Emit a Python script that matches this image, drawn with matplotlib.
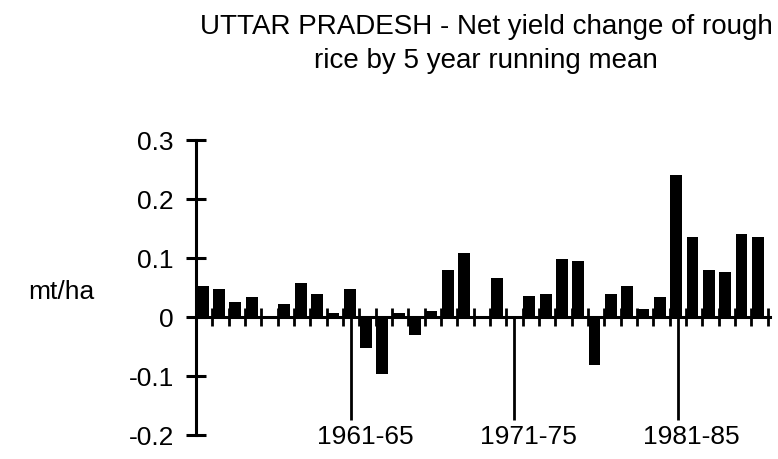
import numpy as np
import matplotlib
matplotlib.use('Agg')
import matplotlib.pyplot as plt
from matplotlib.transforms import ScaledTranslation

plt.rcParams['font.family'] = ['Liberation Sans', 'DejaVu Sans']

# 5 year running mean periods, 1952-56 ... 1986-90
periods = ['%d-%02d' % (y, (y + 4) % 100) for y in range(1952, 1987)]
net_change = [0.052, 0.048, 0.025, 0.033, 0.0, 0.021, 0.057, 0.039, 0.007, 0.048,
              -0.052, -0.097, 0.006, -0.031, 0.010, 0.080, 0.109, 0.0, 0.065, 0.0,
              0.035, 0.039, 0.098, 0.094, -0.081, 0.039, 0.052, 0.014, 0.034, 0.240,
              0.136, 0.080, 0.076, 0.140, 0.136]
labelled = ['1961-65', '1971-75', '1981-85']
yticks = [-0.2, -0.1, 0, 0.1, 0.2, 0.3]
ytick_labels = ['-0.2', '-0.1', '0', '0.1', '0.2', '0.3']

fig = plt.figure(figsize=(7.78, 4.60), dpi=100)
ax = fig.add_axes([196 / 778, 1 - 436 / 460, (770 - 196) / 778, (436 - 140.7) / 460])

x = np.arange(len(net_change))
ax.bar(x + 0.05, net_change, width=0.72, align='edge', color='black', linewidth=0)

ax.set_xlim(0, len(net_change) + 0.15)
ax.set_ylim(-0.2, 0.3)

for s in ['top', 'right']:
    ax.spines[s].set_visible(False)
ax.spines['bottom'].set_position(('data', 0))
ax.spines['bottom'].set_linewidth(2.2)
ax.spines['left'].set_linewidth(2.2)

ax.set_yticks(yticks)
ax.set_yticklabels(ytick_labels)
ax.tick_params(axis='y', direction='inout', length=14, width=2.2, pad=9, labelsize=19)

major_pos = [periods.index(p) + 0.5 for p in labelled]
ax.set_xticks(major_pos)
ax.set_xticklabels(labelled)
ax.set_xticks(np.arange(1, len(net_change) + 1), minor=True)
ax.tick_params(axis='x', which='major', direction='out', length=74, width=2, pad=3, labelsize=19)
ax.tick_params(axis='x', which='minor', direction='inout', length=13, width=2)

# labels sit a little right of their long ticks in the original
shift = ScaledTranslation(0.14, 0, fig.dpi_scale_trans)
for lbl in ax.get_xticklabels():
    lbl.set_transform(lbl.get_transform() + shift)

fig.text(28 / 778, 1 - 292 / 460, 'mt/ha', fontsize=19, ha='left', va='center')
fig.text(486 / 778, 1 - 14 / 460,
         'UTTAR PRADESH - Net yield change of rough\nrice by 5 year running mean',
         fontsize=20, ha='center', va='top', linespacing=1.4)

plt.savefig('out.png', dpi=100)
